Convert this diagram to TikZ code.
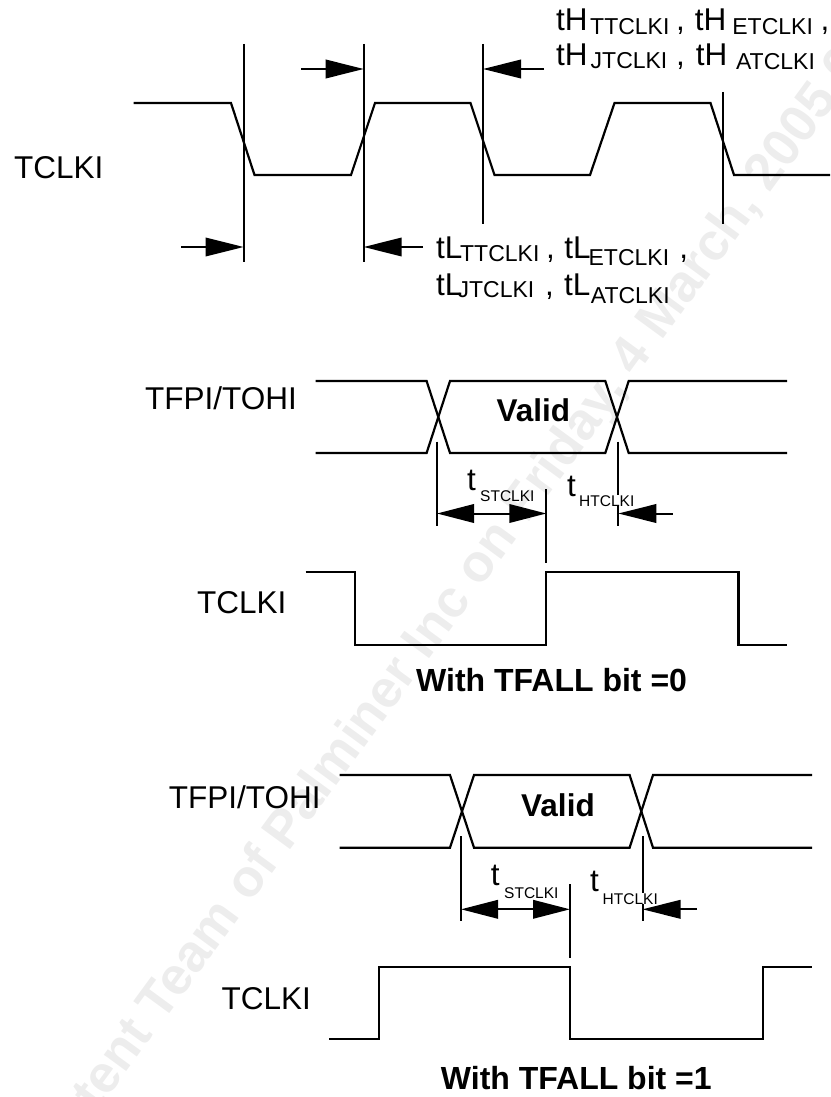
\documentclass[tikz,border=0pt]{standalone}
\usepackage{fontspec}
\setmainfont{Liberation Sans}
\usetikzlibrary{arrows.meta}
\newcommand{\mainfs}{\fontsize{31.5}{36}\selectfont}
\newcommand{\lowsub}[2]{\raisebox{-#1pt}{\fontsize{23}{26}\selectfont #2}}
\newcommand{\smallfs}{\fontsize{15.5}{19}\selectfont}
\tikzset{
  wave/.style={line width=2.2pt,line join=miter},
  tick/.style={line width=2pt},
  dimarrow/.style={line width=2pt,-{Triangle[length=38pt,width=18.5pt]}},
  ddimarrow/.style={line width=2pt,{Triangle[length=37pt,width=18.5pt]}-{Triangle[length=37pt,width=18.5pt]}},
  lab/.style={anchor=base west,inner sep=0pt,font=\mainfs,text=black},
  boldlab/.style={anchor=base west,inner sep=0pt,font=\mainfs\bfseries,text=black},
  caplab/.style={anchor=base west,inner sep=0pt,font=\fontsize{32}{36}\selectfont\bfseries,text=black},
  tinylab/.style={anchor=base west,inner sep=0pt,font=\smallfs,text=black},
  tinywhite/.style={tinylab,fill=white},
  wmark/.style={anchor=base west,inner sep=0pt,rotate=53.8,font=\fontsize{52.5}{56}\selectfont\bfseries,text=black!7},
}
\begin{document}
\begin{tikzpicture}[x=1pt,y=-1pt]
\useasboundingbox (0,0) rectangle (830,1097);
\clip (0,0) rectangle (830,1097);
\node[wmark] (wm) at (37,1195) {Content Team of Palminer Inc on Friday, 4 March, 2005 06};

% Panel 1
\node[lab] (clk1) at (14,178) {TCLKI};
\draw[wave] (133.6,103) -- (231,103) -- (254.5,175) -- (351,175) -- (375,103) -- (470.5,103) -- (494.5,175) -- (590,175) -- (614.5,103) -- (710.5,103) -- (734,175) -- (830,175);
\coordinate (a1) at (243.6,44); \coordinate (a2) at (243.6,262);
\coordinate (b1) at (363.7,44); \coordinate (b2) at (363.7,262);
\coordinate (c1) at (483,44); \coordinate (c2) at (483,224);
\coordinate (d1) at (723,92); \coordinate (d2) at (723,224);
\draw[tick] (a1) -- (a2) (b1) -- (b2) (c1) -- (c2) (d1) -- (d2);
\coordinate (e1) at (301,69); \coordinate (e2) at (363.7,69);
\coordinate (f1) at (544,69); \coordinate (f2) at (483,69);
\coordinate (g1) at (181,247); \coordinate (g2) at (243.6,247);
\coordinate (h1) at (423,247); \coordinate (h2) at (363.7,247);
\draw[dimarrow] (e1) -- (e2);
\draw[dimarrow] (f1) -- (f2);
\draw[dimarrow] (g1) -- (g2);
\draw[dimarrow] (h1) -- (h2);
\node[lab] (th1) at (556,30.7) {tH\kern2.5pt\lowsub{4}{TTCLKI}\kern-2pt{} , \kern1.2pt tH\kern6pt\lowsub{4}{ETCLKI}\kern-1pt{} ,};
\node[lab] (th2) at (556,66) {tH\kern3pt\lowsub{2.3}{JTCLKI} , \kern2.2pt tH \lowsub{4}{ATCLKI}};
\node[lab] (tl1) at (436,258) {tL\kern-2.3pt\lowsub{3.7}{TTCLKI}\kern-2pt{} , \kern0.7pt tL\kern-2pt\lowsub{7.7}{ETCLKI} \kern1.5pt,};
\node[lab] (tl2) at (436,295.7) {tL\kern-4.8pt\lowsub{2}{JTCLKI} \kern2pt, \kern1.5pt tL\kern0.5pt\lowsub{7.6}{ATCLKI}};

% Panel 2
\node[lab] (sig2) at (145,409) {TFPI/TOHI};
\node[boldlab] (val2) at (496.4,421) {Valid};
\draw[wave] (315.6,381) -- (426.6,381) -- (450,453) -- (605.3,453) -- (628.7,381) -- (787,381);
\draw[wave] (315.6,453) -- (426.6,453) -- (450,381) -- (605.3,381) -- (628.7,453) -- (787,453);
\coordinate (p1) at (437,441.7); \coordinate (p2) at (437,525.7);
\coordinate (q1) at (618.3,441.7); \coordinate (q2) at (618.3,525.7);
\coordinate (r1) at (546.3,489); \coordinate (r2) at (546.3,563);
\draw[tick] (p1) -- (p2) (q1) -- (q2) (r1) -- (r2);
\coordinate (s1) at (437,513.5); \coordinate (s2) at (546.3,513.5);
\coordinate (u1) at (672.7,513.5); \coordinate (u2) at (618.3,513.5);
\node[lab] (t21) at (467,490.7) {t};
\node[tinylab] (t22) at (480,501) {STCLKI};
\node[lab] (t23) at (567,496) {t};
\node[tinywhite] (t24) at (579,506) {HTCLKI};
\draw[ddimarrow] (s1) -- (s2);
\draw[dimarrow] (u1) -- (u2);
\node[lab] (clk2) at (197,613) {TCLKI};
\draw[wave] (305.6,572) -- (354.6,572) -- (354.6,645) -- (546.3,645) -- (546.3,572) -- (738.4,572) -- (738.4,645) -- (787,645);
\node[caplab] (cap2) at (416,691.7) {With TFALL bit =0};

% Panel 3
\node[lab] (sig3) at (168.7,808) {TFPI/TOHI};
\node[boldlab] (val3) at (521,816) {Valid};
\draw[wave] (339.5,775) -- (450,775) -- (474,847.7) -- (629.6,847.7) -- (653,775) -- (812,775);
\draw[wave] (339.5,847.7) -- (450,847.7) -- (474,775) -- (629.6,775) -- (653,847.7) -- (812,847.7);
\coordinate (v1) at (461,836); \coordinate (v2) at (461,920.7);
\coordinate (w1) at (642.5,836); \coordinate (w2) at (642.5,920.7);
\coordinate (z1) at (570,884); \coordinate (z2) at (570,958);
\draw[tick] (v1) -- (v2) (w1) -- (w2) (z1) -- (z2);
\coordinate (m1) at (461,909.3); \coordinate (m2) at (570,909.3);
\coordinate (n1) at (697,909.3); \coordinate (n2) at (642.5,909.3);
\node[lab] (t31) at (490.7,885) {t};
\node[tinylab] (t32) at (504,898.3) {STCLKI};
\node[lab] (t33) at (590,891) {t};
\node[tinywhite] (t34) at (602.5,904) {HTCLKI};
\draw[ddimarrow] (m1) -- (m2);
\draw[dimarrow] (n1) -- (n2);
\node[lab] (clk3) at (221.5,1009) {TCLKI};
\draw[wave] (329,1039) -- (378.7,1039) -- (378.7,967.3) -- (570,967.3) -- (570,1039) -- (763,1039) -- (763,967.3) -- (812,967.3);
\node[caplab] (cap3) at (440.7,1089) {With TFALL bit =1};
\end{tikzpicture}
\end{document}
